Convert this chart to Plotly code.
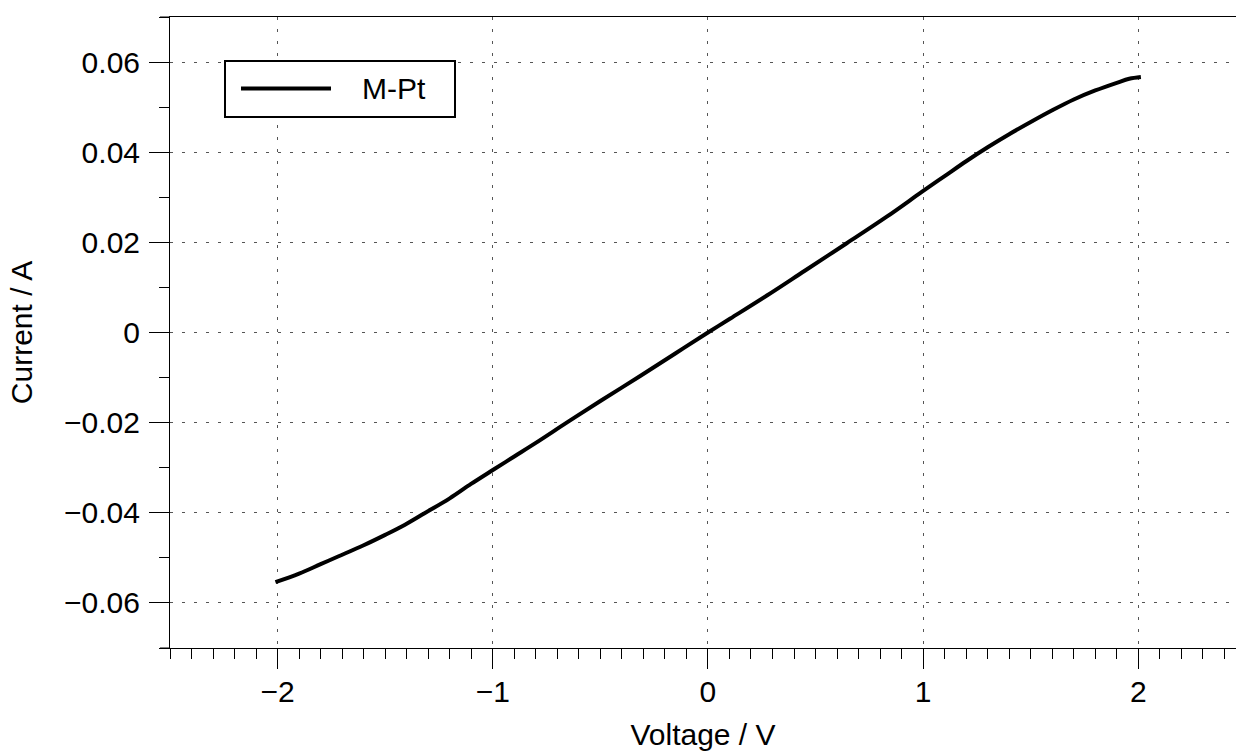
import plotly.graph_objects as go

# Data
voltage = [-2.01, -1.90, -1.80, -1.719, -1.60, -1.50, -1.41, -1.317, -1.20, -1.101,
           -0.996, -0.90, -0.80, -0.653, -0.50, -0.313, -0.15, 0.0, 0.104, 0.274,
           0.45, 0.645, 0.831, 0.997, 1.10, 1.20, 1.30, 1.40, 1.50,
           1.60, 1.70, 1.80, 1.90, 1.958, 2.012]
current = [-0.0554, -0.0535, -0.0514, -0.0497, -0.0472, -0.0449, -0.0427, -0.0401, -0.0368, -0.0336,
           -0.0304, -0.0275, -0.0245, -0.0199, -0.0152, -0.0096, -0.0046, 0.0, 0.0031, 0.0082,
           0.0137, 0.0198, 0.0257, 0.0313, 0.0347, 0.0380, 0.0411, 0.0440, 0.0467,
           0.0493, 0.0517, 0.0537, 0.0554, 0.0563, 0.0567]

series_name = "M-Pt"
x_ticks = [-2, -1, 0, 1, 2]
x_tick_labels = ["−2", "−1", "0", "1", "2"]
y_ticks = [-0.06, -0.04, -0.02, 0, 0.02, 0.04, 0.06]
y_tick_labels = ["−0.06", "−0.04", "−0.02", "0", "0.02", "0.04", "0.06"]

FONT = "Liberation Sans, Arial, Helvetica, sans-serif"
FS = 30
W, H = 1236, 751
ML, MT, MB, MR = 170, 17, 103, 0
plot_w = W - ML - MR
plot_h = H - MT - MB


def px_x(p):
    return (p - ML) / plot_w


def px_y(p):
    return 1 - (p - MT) / plot_h


fig = go.Figure()
fig.add_trace(go.Scatter(x=voltage, y=current, mode="lines", name=series_name,
                         line=dict(color="black", width=4, shape="spline", smoothing=1.0),
                         showlegend=False))

grid = dict(showgrid=True, gridcolor="#555555", gridwidth=1, griddash="3px,9px")
tfont = dict(family=FONT, size=FS, color="black")

fig.update_layout(
    width=W, height=H,
    margin=dict(l=ML, r=MR, t=MT, b=MB),
    paper_bgcolor="white", plot_bgcolor="white",
    font=tfont,
    showlegend=False,
    xaxis=dict(range=[-2.5, 2.454], tickmode="array", tickvals=x_ticks,
               ticktext=x_tick_labels, tickfont=tfont,
               ticks="outside", ticklen=20, tickcolor="black", tickwidth=1,
               ticklabelstandoff=-3,
               showline=True, linecolor="black", linewidth=1, mirror=True,
               zeroline=False,
               minor=dict(dtick=0.1, tick0=0, ticks="outside", ticklen=10,
                          tickcolor="black", tickwidth=1, showgrid=False),
               title=dict(text="Voltage / V", standoff=20, font=tfont),
               **grid),
    yaxis=dict(range=[-0.07, 0.07], tickmode="array", tickvals=y_ticks,
               ticktext=y_tick_labels, tickfont=tfont,
               ticks="outside", ticklen=20, tickcolor="black", tickwidth=1,
               ticklabelstandoff=3,
               showline=True, linecolor="black", linewidth=1,
               zeroline=False,
               minor=dict(dtick=0.01, tick0=0, ticks="outside", ticklen=10,
                          tickcolor="black", tickwidth=1, showgrid=False),
               title=dict(text="Current / A", standoff=22, font=tfont),
               **grid),
)

# axis line extensions to the left (top frame and x axis)
ext = 10 / plot_w
for yv in (0, 1):
    fig.add_shape(type="line", xref="paper", yref="paper", x0=-ext, x1=0, y0=yv, y1=yv,
                  line=dict(color="black", width=1))

# legend box drawn to match the reference
fig.add_shape(type="rect", xref="paper", yref="paper",
              x0=px_x(225), x1=px_x(455), y0=px_y(117), y1=px_y(61),
              line=dict(color="black", width=2), fillcolor="white", layer="above")
fig.add_shape(type="line", xref="paper", yref="paper",
              x0=px_x(241), x1=px_x(331), y0=px_y(88.5), y1=px_y(88.5),
              line=dict(color="black", width=4), layer="above")
fig.add_annotation(xref="paper", yref="paper", x=px_x(360), y=px_y(89),
                   xanchor="left", yanchor="middle", text=series_name,
                   showarrow=False, font=tfont)

fig.write_html("out.html")
